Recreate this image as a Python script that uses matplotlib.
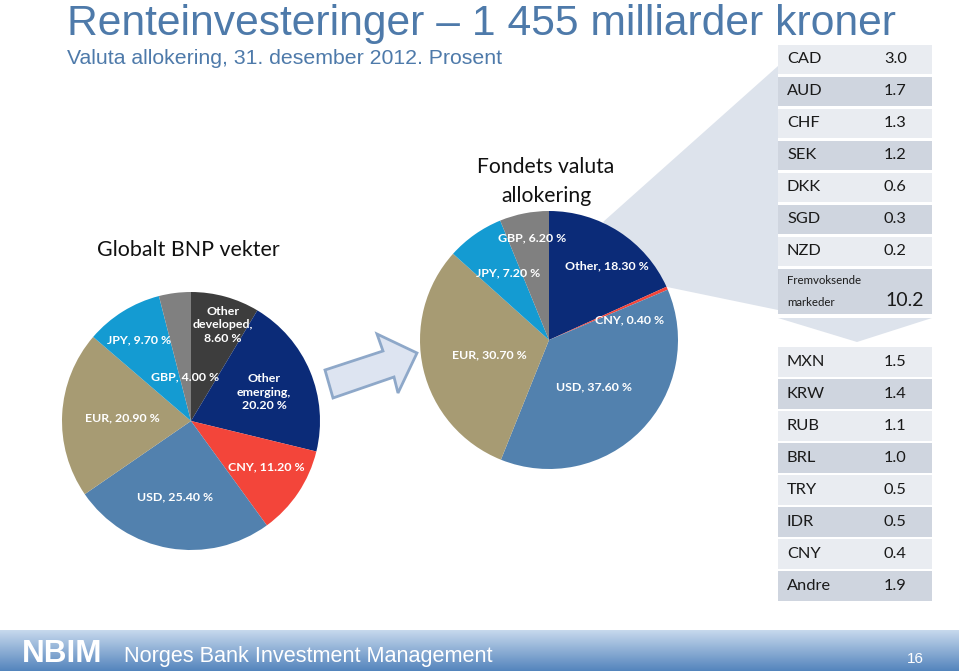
import numpy as np
import matplotlib
matplotlib.use("Agg")
import matplotlib.pyplot as plt
from matplotlib.patches import Polygon, Rectangle

# ---------------- data ----------------
gdp_labels = ["Other\ndeveloped,\n8.60 %", "Other\nemerging,\n20.20 %", "CNY, 11.20 %",
              "USD, 25.40 %", "EUR, 20.90 %", "JPY, 9.70 %", "GBP, 4.00 %"]
gdp_values = [8.6, 20.2, 11.2, 25.4, 20.9, 9.7, 4.0]

fund_labels = ["Other, 18.30 %", "CNY, 0.40 %", "USD, 37.60 %", "EUR, 30.70 %",
               "JPY, 7.20 %", "GBP, 6.20 %"]
fund_values = [18.3, 0.4, 37.6, 30.7, 7.2, 6.2]

dev_currencies = ["CAD", "AUD", "CHF", "SEK", "DKK", "SGD", "NZD", "Fremvoksende\nmarkeder"]
dev_values = ["3.0", "1.7", "1.3", "1.2", "0.6", "0.3", "0.2", "10.2"]

em_currencies = ["MXN", "KRW", "RUB", "BRL", "TRY", "IDR", "CNY", "Andre"]
em_values = ["1.5", "1.4", "1.1", "1.0", "0.5", "0.5", "0.4", "1.9"]

# ---------------- style ----------------
NAVY = "#0b2b78"
DGRAY = "#3d3d3d"
RED = "#f3453a"
STEEL = "#5281ae"
KHAKI = "#a79b73"
CYAN = "#149bd2"
GRAY = "#808080"
TITLE_C = "#4e7aaa"
LIGHT = "#dde3ec"

gdp_colors = [DGRAY, NAVY, RED, STEEL, KHAKI, CYAN, GRAY]
fund_colors = [NAVY, RED, STEEL, KHAKI, CYAN, GRAY]

W, H = 959, 671
fig = plt.figure(figsize=(W / 100, H / 100), dpi=100)
fig.patch.set_facecolor("white")

bg = fig.add_axes([0, 0, 1, 1], zorder=0)
bg.set_xlim(0, W)
bg.set_ylim(H, 0)
bg.axis("off")

renderer = fig.canvas.get_renderer()


def fit(t, target):
    w = t.get_window_extent(renderer=renderer).width
    t.set_fontsize(t.get_fontsize() * target / w)


# title
t = bg.text(67, 35, "Renteinvesteringer – 1 455 milliarder kroner", fontsize=29,
            color=TITLE_C, family="Liberation Sans", ha="left", va="baseline")
fit(t, 828)
t = bg.text(67, 64, "Valuta allokering, 31. desember 2012. Prosent", fontsize=14,
            color=TITLE_C, family="Liberation Sans", ha="left", va="baseline")
fit(t, 438)

# callout polygon
bg.add_patch(Polygon([(603, 222), (778, 66), (778, 310), (667, 287)], closed=True,
                     facecolor=LIGHT, edgecolor="none", zorder=1))
# chevron between tables
bg.add_patch(Polygon([(778, 318), (932, 318), (857, 342)], closed=True,
                     facecolor=LIGHT, edgecolor="none", zorder=1))

# block arrow
bg.add_patch(Polygon([(325, 370), (383, 351), (377, 334), (417, 353), (398, 393),
                      (394, 377), (333, 398)], closed=True,
                     facecolor="#dde4f1", edgecolor="#8ea8c9", lw=2, zorder=2))

# tables
ROW_L, ROW_D = "#e9ecf1", "#cfd5df"


def table(names, vals, y0, pitch, last_h=None):
    y = y0
    for i, (n, v) in enumerate(zip(names, vals)):
        h = pitch
        if last_h is not None and i == len(names) - 1:
            h = last_h
        bg.add_patch(Rectangle((778, y), 154, h - 2.5, facecolor=ROW_L if i % 2 == 0 else ROW_D,
                               edgecolor="none", zorder=3))
        cy = y + (h - 2.5) / 2
        if "\n" in n:
            a, b = n.split("\n")
            bg.text(787, cy - 11, a, fontsize=8.3, family="Lato", color="#1a1a1a",
                    ha="left", va="center", zorder=4)
            bg.text(787, cy + 11, b, fontsize=8.3, family="Lato", color="#1a1a1a",
                    ha="left", va="center", zorder=4)
            bg.text(885, cy + 9, v, fontsize=14, family="Lato", color="#1a1a1a",
                    ha="left", va="center", zorder=4)
        else:
            bg.text(787, cy, n, fontsize=11.8, family="Lato", color="#1a1a1a",
                    ha="left", va="center", zorder=4)
            bg.text(884, cy, v, fontsize=11.8, family="Lato", color="#1a1a1a",
                    ha="left", va="center", zorder=4)
        y += h


table(dev_currencies, dev_values, 44.5, 32.0, last_h=48)
table(em_currencies, em_values, 347, 32.0)

# footer gradient
grad = np.linspace(0, 1, 64).reshape(-1, 1)
c_top = np.array([0.78, 0.85, 0.93])
c_bot = np.array([0.33, 0.52, 0.74])
img = c_top[None, None, :] * (1 - grad[:, :, None]) + c_bot[None, None, :] * grad[:, :, None]
img = np.repeat(img, 2, axis=1)
bg.imshow(img, extent=(0, W, H, 630), aspect="auto", zorder=1, interpolation="bilinear")
bg.set_xlim(0, W)
bg.set_ylim(H, 0)
t = bg.text(22, 662, "NBIM", fontsize=19, fontweight="bold", color="white",
            family="Liberation Sans", ha="left", va="baseline", zorder=5)
fit(t, 80)
t = bg.text(124, 662, "Norges Bank Investment Management", fontsize=16, color="white",
            family=["Liberation Sans Narrow", "Liberation Sans"], ha="left", va="baseline", zorder=5)
fit(t, 370)
bg.text(924, 663, "16", fontsize=11, color="white", family=["Liberation Sans Narrow", "Liberation Sans"],
        ha="right", va="baseline", zorder=5)


# pies
def pie_axes(cx, cy, r):
    ax = fig.add_axes([(cx - r) / W, (H - cy - r) / H, 2 * r / W, 2 * r / H], zorder=2)
    ax.patch.set_alpha(0)
    return ax


ax1 = pie_axes(191, 421, 129)
ax1.pie(gdp_values, colors=gdp_colors, startangle=90, counterclock=False, radius=1,
        wedgeprops=dict(linewidth=0))
ax1.set_xlim(-1, 1)
ax1.set_ylim(-1, 1)
ax1.axis("off")

ax2 = pie_axes(549, 340, 129)
ax2.pie(fund_values, colors=fund_colors, startangle=90, counterclock=False, radius=1,
        wedgeprops=dict(linewidth=0))
ax2.set_xlim(-1, 1)
ax2.set_ylim(-1, 1)
ax2.axis("off")

# pie labels (pixel positions)
lab_kw = dict(fontsize=8.9, fontweight="bold", color="white", family="Lato",
              ha="center", va="center", linespacing=1.3, zorder=10)
gdp_pos = [(223, 325), (264, 392), (266, 467), (175, 497), (122, 418), (139, 340), (185, 377)]
for lab, (x, y) in zip(gdp_labels, gdp_pos):
    fig.text(x / W, 1 - y / H, lab, **lab_kw)
fund_pos = [(607, 266), (630, 320), (594, 387), (489, 355), (508, 273), (532, 238)]
for lab, (x, y) in zip(fund_labels, fund_pos):
    fig.text(x / W, 1 - y / H, lab, **lab_kw)

# pie titles
t = bg.text(188, 250, "Globalt BNP vekter", fontsize=15, family="Lato", color="#111111",
            ha="center", va="center")
fit(t, 183)
t1 = bg.text(546, 167, "Fondets valuta", fontsize=15, family="Lato", color="#111111",
             ha="center", va="center")
fit(t1, 138)
bg.text(546, 196, "allokering", fontsize=t1.get_fontsize(), family="Lato", color="#111111",
        ha="center", va="center")

fig.savefig("out.png", dpi=100, facecolor="white")
